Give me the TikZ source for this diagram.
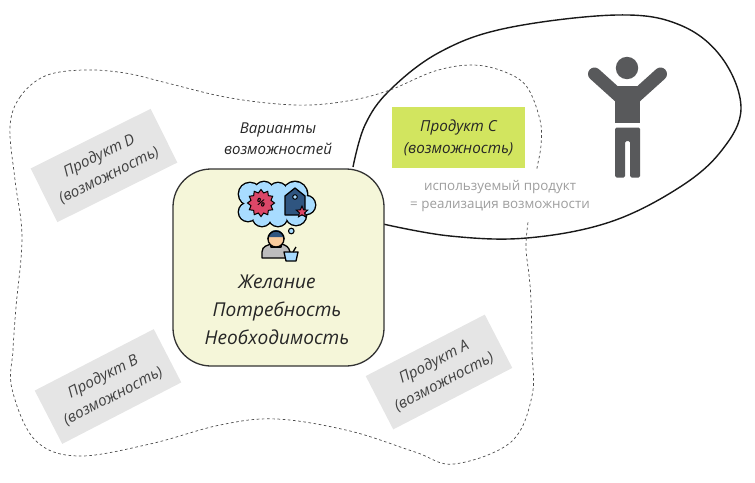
\documentclass[tikz,border=0pt]{standalone}
\usepackage{fontspec}
\setmainfont{Open Sans}
\usetikzlibrary{shapes.geometric}
\definecolor{figgray}{HTML}{58595B}
\definecolor{boxgray}{HTML}{E5E5E5}
\definecolor{lime}{HTML}{D2E55F}
\definecolor{cream}{HTML}{F5F6D9}
\definecolor{cloudblue}{HTML}{A8DCFF}
\definecolor{badge}{HTML}{DC4768}
\definecolor{tagblue}{HTML}{2F5580}
\definecolor{skin}{HTML}{F9CB9C}
\definecolor{shirt}{HTML}{BDBDBD}
\tikzset{
  prodbox/.style={fill=boxgray,minimum width=134pt,minimum height=60pt,inner sep=0pt,align=center,
    font=\fontsize{15.2}{22}\selectfont\itshape,text=black!75},
  iconline/.style={draw=black,line width=1.3pt,line join=round},
}
\begin{document}
\begin{tikzpicture}[x=1pt,y=-1pt]
\useasboundingbox (0,0) rectangle (755,482);
% person's blob
\draw[fill=white,line width=1.4pt,draw=black!90]
  plot[smooth,tension=0.62] coordinates {(353,167) (365,125) (390,90) (440,52) (507,28) (617,15) (680,25) (722,58) (741,108) (722,150) (680,187) (610,222) (527,238) (450,236) (383,224)};
% dashed field
\draw[line width=0.7pt,dash pattern=on 2.6pt off 2.6pt,draw=black!70]
  plot[smooth cycle,tension=0.6] coordinates {(10,127) (20,97) (45,76) (83,70) (125,73) (167,83) (220,96) (267,103) (310,105) (353,100) (390,90) (435,71) (473,65) (505,72) (527,87) (540,120) (541,145) (537,168) (532,195) (528,222) (526,248) (529,275) (531,300) (532,350) (532,396) (511,442) (454,464) (415,452) (350,431) (277,419) (220,425) (150,444) (78,456) (35,440) (12,389) (13,350) (16,307) (22,237) (15,180)};
% label with white background
\fill[white] (420,171) rectangle (594,220);
\node[font=\fontsize{13.4}{18.2}\selectfont,text=black!38,align=center] (usedtxt) at (500,196)
  {используемый продукт\\= реализация возможности};
% C box
\node[fill=lime,minimum width=133pt,minimum height=61pt,inner sep=0pt,align=center,
  font=\fontsize{15.2}{22}\selectfont\itshape,text=black!85] (prodC) at (458.5,137.5) {Продукт C\\(возможность)};
% grey boxes
\node[prodbox,rotate=26.4] (prodD) at (104,165.5) {Продукт D\\(возможность)};
\node[prodbox,rotate=27.3] (prodB) at (108,386.5) {Продукт B\\(возможность)};
\node[prodbox,rotate=27.3] (prodA) at (439,372) {Продукт A\\(возможность)};
\node[font=\fontsize{15}{21.5}\selectfont\itshape,text=black!85,align=center] (variants) at (278,138.5) {Варианты\\возможностей};
% central box
\node[draw=black!80,line width=1.3pt,fill=cream,rounded corners=38pt,minimum width=211pt,minimum height=197pt,inner sep=0pt] (core) at (278.5,267.5) {};
\node[font=\fontsize{19.1}{28}\selectfont\itshape,text=black!85,align=center] (needs) at (277,309.5) {Желание\\Потребность\\Необходимость};
% shopper icon: cloud
\foreach \px/\py/\r in {250/194/11,264/191/9,278/192/9,295/194/12,306/205/9,296/215/10,278/217/9,262/217/9,248/212/9}{
  \fill[black] (\px,\py) circle ({\r+1.4pt});
}
\foreach \px/\py/\r in {250/194/11,264/191/9,278/192/9,295/194/12,306/205/9,296/215/10,278/217/9,262/217/9,248/212/9}{
  \fill[cloudblue] (\px,\py) circle (\r pt);
}
\fill[cloudblue] (250,192) rectangle (302,218);
\node[star,star points=12,star point ratio=1.3,fill=badge,draw=black,line width=1pt,minimum size=27pt,inner sep=0pt] (badgeicon) at (261,203) {};
\node[font=\fontsize{10}{10}\selectfont\bfseries,text=black,inner sep=0pt,rotate=-20] (pct) at (261,203) {\%};
\draw[iconline,fill=tagblue] (285,215) -- (285,196) -- (295,188) -- (305,196) -- (305,215) -- cycle;
\draw[line width=1pt,fill=cloudblue] (295,197) circle (2.3pt);
\node[star,star points=5,star point ratio=2.2,fill=badge,draw=black,line width=0.9pt,minimum size=12pt,inner sep=0pt] (staricon) at (302,212) {};
\draw[line width=1.1pt,fill=cloudblue] (291.3,231) circle (2.8pt);
% shopper
\draw[iconline,fill=shirt] (262,258) -- (262,252) .. controls (262,246) and (268,245) .. (272,244) -- (281,244) .. controls (286,245) and (289,247) .. (290,252) -- (290,258) -- cycle;
\draw[iconline,fill=skin] (271,240) rectangle (281,247);
\draw[iconline,fill=skin] (276,239) circle (8pt);
\fill[tagblue] (268.5,237) arc[start angle=180,end angle=360,x radius=7.5pt,y radius=-7pt] -- cycle;
\draw[line width=1.3pt] (268,239) arc[start angle=180,end angle=360,x radius=8pt,y radius=-8pt];
\draw[iconline,fill=cloudblue] (284,252) -- (298,252) -- (296,261) -- (286,261) -- cycle;
\draw[line width=1.3pt] (293,252) -- (296,247);
% standing figure
\fill[figgray] (627,68) circle (11.2pt);
\draw[figgray,line width=13pt,line cap=round] (594.5,74) -- (620,97);
\draw[figgray,line width=13pt,line cap=round] (660.5,74) -- (635,97);
\fill[figgray] (615,86) rectangle (640,122.7);
\fill[figgray,rounded corners=1.5pt] (615,127.5) -- (640,127.5) -- (640,177.5) -- (630,177.5) -- (630,141) -- (625,141) -- (625,177.5) -- (615,177.5) -- cycle;
\end{tikzpicture}
\end{document}
